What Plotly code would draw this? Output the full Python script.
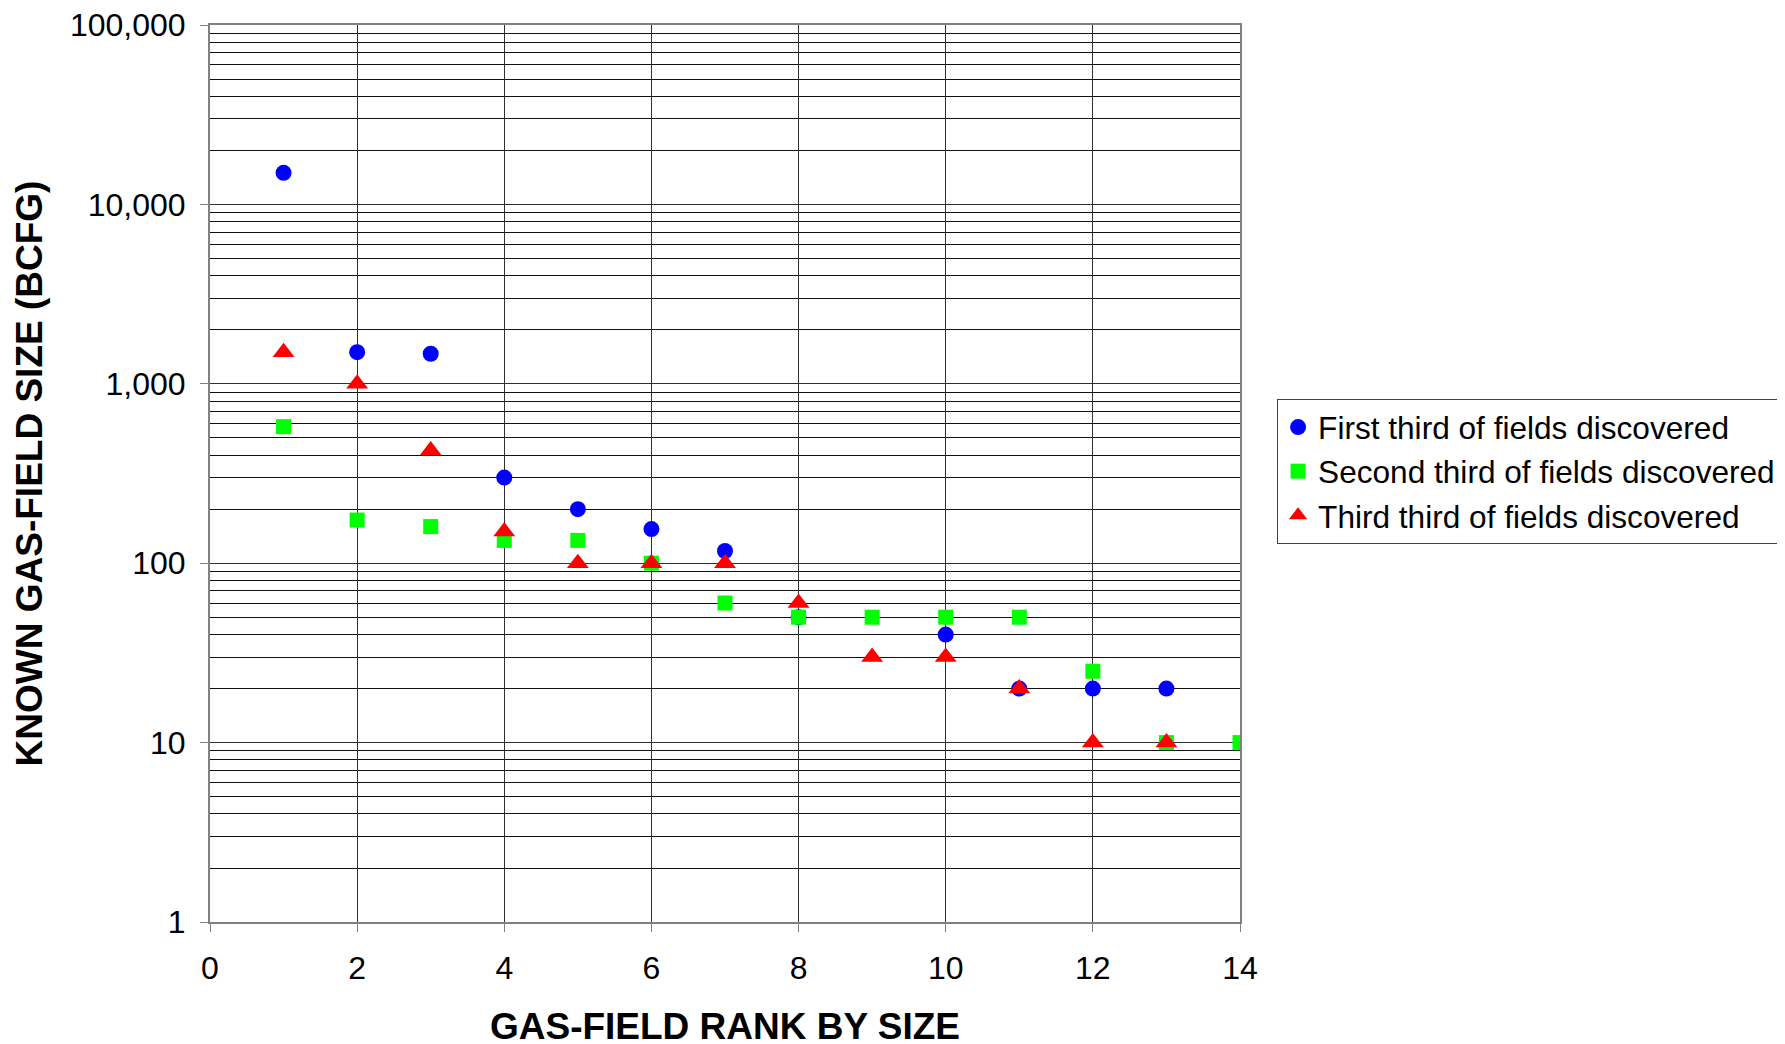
import plotly.graph_objects as go

# field rank (x) and known size in BCFG (y) for each discovery third
first_rank = [1, 2, 3, 4, 5, 6, 7, 8, 10, 11, 12, 13]
first_size = [15000, 1500, 1470, 300, 200, 155, 117, 50, 40, 20, 20, 20]

second_rank = [1, 2, 3, 4, 5, 6, 7, 8, 9, 10, 11, 12, 13, 14]
second_size = [577, 174, 160, 134, 134, 100, 60, 50, 50, 50, 50, 25, 10, 10]

third_rank = [1, 2, 3, 4, 5, 6, 7, 8, 9, 10, 11, 12, 13]
third_size = [1500, 1000, 425, 150, 100, 100, 100, 60, 30, 30, 20, 10, 10]

y_tickvals = [1, 10, 100, 1000, 10000, 100000]
y_ticktext = ["1", "10", "100", "1,000", "10,000", "100,000"]

FONT = "Liberation Sans, Arial, sans-serif"

fig = go.Figure()

fig.add_trace(go.Scatter(
    x=first_rank, y=first_size, mode='markers',
    name='First third of fields discovered',
    marker=dict(symbol='circle', color='#0000ff', size=16)
))
fig.add_trace(go.Scatter(
    x=second_rank, y=second_size, mode='markers',
    name='Second third of fields discovered',
    marker=dict(symbol='square', color='#00ff00', size=15)
))
fig.add_trace(go.Scatter(
    x=third_rank, y=third_size, mode='markers',
    name='Third third of fields discovered',
    marker=dict(symbol='triangle-up', color='#ff0000', size=19)
))

fig.update_xaxes(
    range=[0, 14], dtick=2, tick0=0,
    showgrid=True, gridcolor='#303030', gridwidth=1,
    zeroline=False,
    showline=True, linecolor='#808080', linewidth=2, mirror=True,
    ticks='outside', ticklen=8, tickcolor='#808080',
    ticklabelstandoff=9, ticklabeloverflow='allow',
    tickfont=dict(family=FONT, size=32, color='black'),
    title=dict(text='<b>GAS-FIELD RANK BY SIZE</b>',
               font=dict(family=FONT, size=37, color='black'), standoff=28),
)
fig.update_yaxes(
    type='log', range=[0, 5],
    tickvals=y_tickvals, ticktext=y_ticktext,
    showgrid=True, gridcolor='#303030', gridwidth=1,
    minor=dict(dtick='D1', showgrid=True, gridcolor='#101010', gridwidth=1, ticks=''),
    zeroline=False,
    showline=True, linecolor='#808080', linewidth=2, mirror=True,
    ticks='outside', ticklen=8, tickcolor='#808080',
    ticklabelstandoff=8, ticklabeloverflow='allow',
    tickfont=dict(family=FONT, size=32, color='black'),
    title=dict(text='<b>KNOWN GAS-FIELD SIZE (BCFG)</b>',
               font=dict(family=FONT, size=37, color='black'), standoff=16),
)

# page body adds an 8px offset, so margins are shifted to compensate
fig.update_layout(
    width=1785, height=1044,
    margin=dict(l=202, r=553, t=17, b=130, autoexpand=False),
    paper_bgcolor='white', plot_bgcolor='white',
    font=dict(family=FONT, color='black'),
    legend=dict(
        x=1.036, y=0.583, xanchor='left', yanchor='top',
        font=dict(family=FONT, size=31.6, color='black'),
        bordercolor='#404040', borderwidth=1, bgcolor='white',
        itemwidth=30,
    ),
)

fig.write_html("out.html")
